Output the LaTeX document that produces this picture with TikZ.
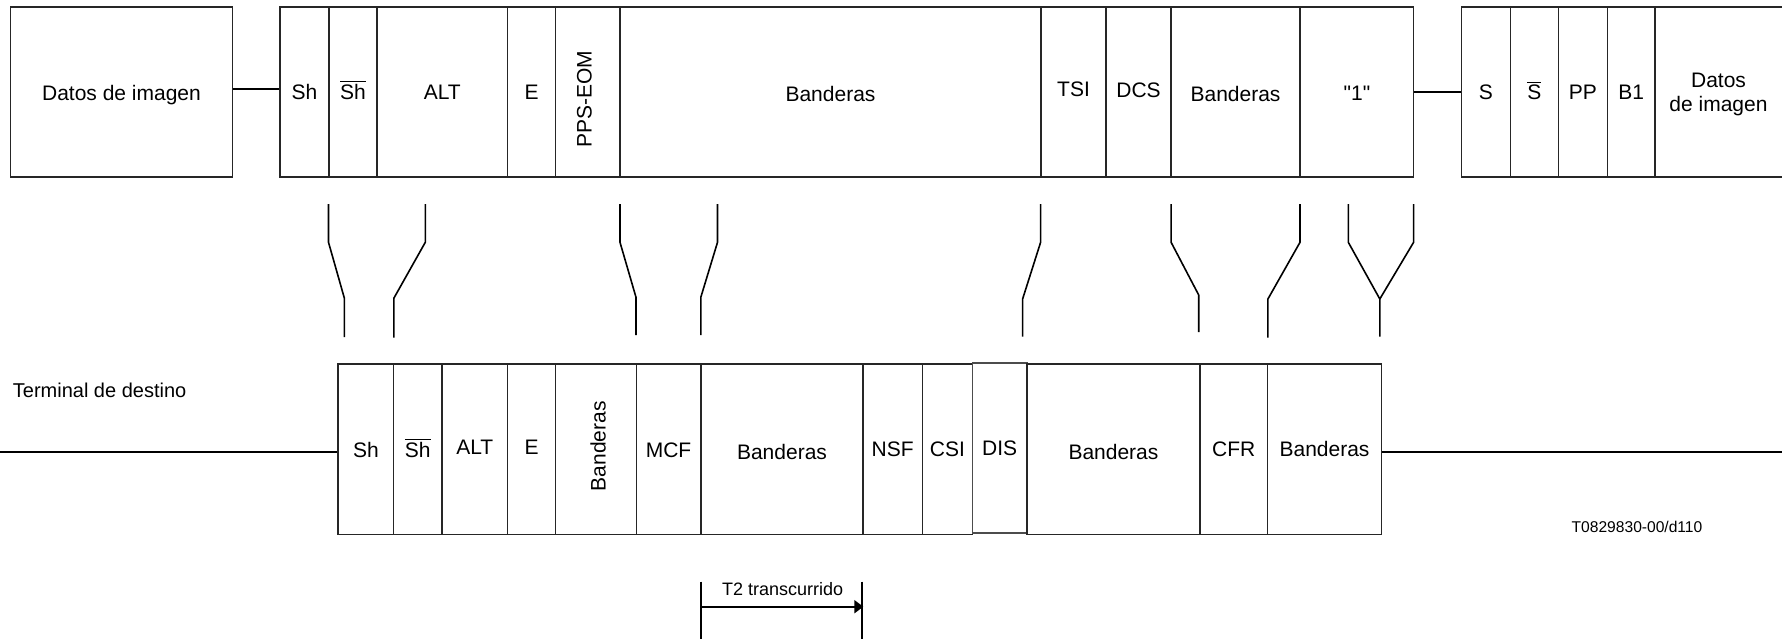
\documentclass[tikz,border=0pt]{standalone}
\usepackage{fontspec}
\usepackage{graphicx}
\setmainfont{Liberation Sans}
\usetikzlibrary{arrows.meta,calc}
\newcommand\mkcell[6]{%
  \node[cellbox, minimum width={(#3-#2)*0.5pt}, minimum height={(#5-#4)*0.5pt}] (#1) at ({(#2+#3)/2},{(#4+#5)/2}) {#6};}
\newcommand\ovl[1]{$\overline{\mbox{#1}}$}
\begin{document}
\begin{tikzpicture}[x=0.5pt,y=-0.5pt,
  cellbox/.style={draw=black!85, line width=0.6pt, inner sep=0pt, text height=7.5pt, text depth=0pt,
                  font=\fontsize{10.5}{12}\selectfont},
  wire/.style={line width=1.1pt},
  stub/.style={line width=0.8pt},
  lbl/.style={inner sep=0pt, font=\fontsize{10.5}{12}\selectfont}]
\useasboundingbox (0,0) rectangle (1782,638);

% ---------- top row ----------
\mkcell{dat1}{10.3}{232.7}{7}{177}{\raisebox{-0.5pt}{Datos de imagen}}
\mkcell{sh1}{280}{329}{7}{177}{Sh}
\mkcell{shb1}{329}{377}{7}{177}{\ovl{Sh}}
\mkcell{alt1}{377}{507.5}{7}{177}{ALT}
\mkcell{e1}{507.5}{555.5}{7}{177}{E}
\mkcell{pps1}{555.5}{620}{7}{177}{}
\node[lbl, rotate=90] (ppst) at (584.5,99.5) {PPS-EOM};
\mkcell{ban1}{620}{1041}{7}{177}{\raisebox{-1.1pt}{Banderas}}
\mkcell{tsi1}{1041}{1106}{7}{177}{\raisebox{1.3pt}{TSI}}
\mkcell{dcs1}{1106}{1171}{7}{177}{\raisebox{0.8pt}{DCS}}
\mkcell{ban2}{1171}{1300}{7}{177}{\raisebox{-1pt}{Banderas}}
\mkcell{one1}{1300}{1413.8}{7}{177}{\raisebox{-0.5pt}{\textquotedbl 1\textquotedbl}}
\mkcell{s3}{1461.5}{1510.3}{7}{177}{S}
\mkcell{sb3}{1510.3}{1558.3}{7}{177}{\ovl{S}}
\mkcell{pp3}{1558.3}{1607.5}{7}{177}{PP}
\mkcell{b13}{1607.5}{1655}{7}{177}{B1}
\mkcell{dat3}{1655}{1790}{7}{177}{}
\node[lbl, align=center, font=\fontsize{10.5}{12}\selectfont] (dat3t) at (1718.5,94.5) {Datos\\de imagen};

\draw[wire] ([yshift=1.65pt]dat1.east) -- ([yshift=1.65pt]sh1.west);
\draw[wire] (one1.east) -- (s3.west);

% ---------- stubs ----------
\foreach \n/\xa/\xb/\yb/\ye in {1/328.5/344.4/298.3/337, 2/425.3/393.8/298.3/337.5,
   3/620/636/297.3/335, 4/717.5/700.8/297.3/335, 5/1040.6/1022.6/299/336.7,
   6/1171.1/1198.7/295/332, 7/1300/1267.9/299/337.7, 8/1348.3/1379.8/299/336.7}{
  \coordinate (st\n a) at (\xa,204);
  \coordinate (st\n b) at (\xb,\yb);
  \coordinate (st\n c) at (\xb,\ye);
  \draw[stub] (st\n a) -- ++(0,38.3) -- (st\n b) -- (st\n c);
}
\coordinate (st9a) at (1413.6,204);
\draw[stub] (st9a) -- ++(0,38.3) -- (st8b);

% ---------- bottom row ----------
\node[lbl, anchor=west, font=\fontsize{10}{12}\selectfont] (term) at (12.5,390) {Terminal de destino};
\mkcell{sh2}{338}{393.7}{364}{534.3}{\raisebox{-0.5pt}{Sh}}
\mkcell{shb2}{393.7}{441.9}{364}{534.3}{\raisebox{-0.5pt}{\ovl{Sh}}}
\mkcell{alt2}{441.9}{507.6}{364}{534.3}{\raisebox{1.2pt}{ALT}}
\mkcell{e2}{507.6}{555.8}{364}{534.3}{\raisebox{1.2pt}{E}}
\mkcell{ban3}{555.8}{636.1}{364}{534.3}{}
\node[lbl, rotate=90] (ban3t) at (598,446.4) {Banderas};
\mkcell{mcf2}{636.1}{701}{364}{534.3}{\raisebox{-0.3pt}{MCF}}
\mkcell{ban4}{701}{863}{364}{534.3}{\raisebox{-1.6pt}{Banderas}}
\mkcell{nsf2}{863}{922.4}{364}{534.3}{NSF}
\mkcell{csi2}{922.4}{972.4}{364}{534.3}{CSI}
\node[cellbox, draw=black!70, line width=0.9pt, minimum width={(1026.9-972.4)*0.5pt}, minimum height={(533.3-363.3)*0.5pt}]
  (dis2) at ({(972.4+1026.9)/2},{(363.3+533.3)/2}) {DIS};
\mkcell{ban5}{1026.9}{1200}{364}{534.3}{\raisebox{-1.6pt}{Banderas}}
\mkcell{cfr2}{1200}{1267.5}{364}{534.3}{CFR}
\mkcell{ban6}{1267.5}{1381.5}{364}{534.3}{Banderas}

\coordinate (lineL) at (0,451.7);
\coordinate (lineR) at (1782,451.7);
\draw[wire] (lineL) -- (lineL -| sh2.west);
\draw[wire] (lineR -| ban6.east) -- (lineR);

\node[lbl, font=\fontsize{7.8}{9}\selectfont] (ref) at (1637,526.5) {T0829830-00/d110};

% ---------- T2 ----------
\coordinate (t2a) at (701,581.7);
\coordinate (t2b) at (862.3,581.7);
\draw[line width=1pt] (t2a) -- ++(0,60);
\draw[line width=1pt] (t2b) -- ++(0,60);
\coordinate (t2l) at (701,606.7);
\coordinate (t2r) at (862.3,606.7);
\draw[line width=1pt, -{Triangle[length=4.5pt,width=6.5pt]}, shorten >=-0.5pt] (t2l) -- (t2r);
\node[lbl, font=\fontsize{9}{11}\selectfont] (t2t) at (782.7,589.3) {T2 transcurrido};
\end{tikzpicture}
\end{document}
